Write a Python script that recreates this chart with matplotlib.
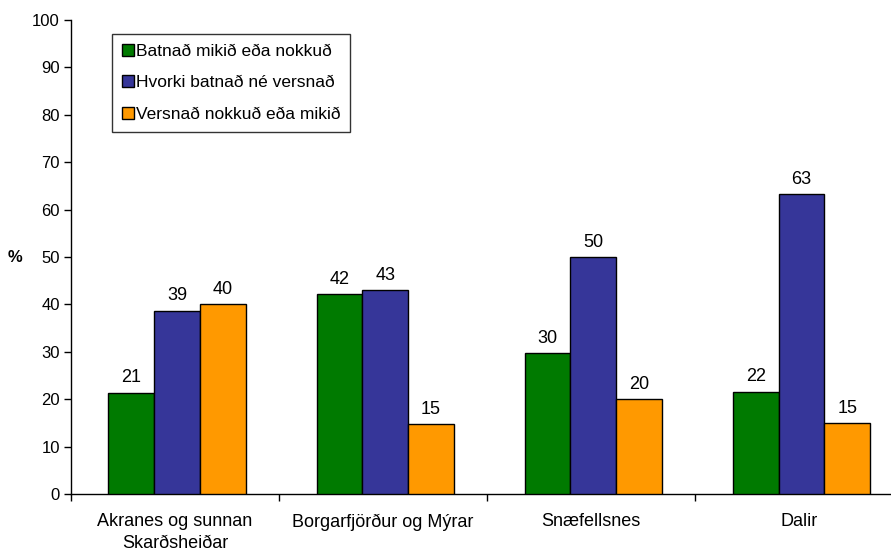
import matplotlib
matplotlib.use("Agg")
import matplotlib.pyplot as plt
import matplotlib.ticker as mticker
import numpy as np

plt.rcParams["font.family"] = ["Liberation Sans", "DejaVu Sans"]

categories = ["Akranes og sunnan\nSkarðsheiðar", "Borgarfjörður og Mýrar",
              "Snæfellsnes", "Dalir"]
series_names = ["Batnað mikið eða nokkuð", "Hvorki batnað né versnað",
                "Versnað nokkuð eða mikið"]
batnad = [21.4, 42.1, 29.7, 21.6]
hvorki = [38.7, 43.0, 49.9, 63.2]
versnad = [40.0, 14.7, 20.0, 15.0]
colors = ["#007a00", "#363699", "#ff9900"]

fig = plt.figure(figsize=(8.91, 5.52), dpi=100)
ax = fig.add_axes([71 / 891, 58 / 552, 820 / 891, 474 / 552])

x = np.arange(len(categories))
w = 0.22
for k, (vals, col, name) in enumerate(zip([batnad, hvorki, versnad], colors, series_names)):
    pos = x + (k - 1) * w + 0.01
    ax.bar(pos, vals, width=w, color=col, edgecolor="black", linewidth=1.0,
           label=name, zorder=3)
    for px, v in zip(pos, vals):
        ax.annotate(f"{v:.0f}", xy=(px, v), xytext=(0, 4.5), textcoords="offset points",
                    ha="center", va="bottom", fontsize=13)

ax.set_ylim(0, 100)
ax.set_xlim(-0.5, 3.44)
ax.yaxis.set_major_locator(mticker.MultipleLocator(10))
ax.set_xticks(np.arange(-0.5, 3.5, 1.0))
ax.set_xticklabels([])
ax.set_xticks(x, minor=True)
ax.set_xticklabels(categories, minor=True, fontsize=13, linespacing=1.35)
ax.tick_params(axis="x", which="minor", length=0, pad=14)
ax.tick_params(axis="x", which="major", length=5, direction="out", width=1)
ax.tick_params(axis="y", length=5, direction="out", width=1, labelsize=12, pad=3)

for s in ["top", "right"]:
    ax.spines[s].set_visible(False)
for s in ["left", "bottom"]:
    ax.spines[s].set_linewidth(1.0)

ax.set_ylabel("%", rotation=0, fontweight="bold", fontsize=12, labelpad=12, va="center")

leg = ax.legend(loc="upper left", bbox_to_anchor=(41 / 820, 1 - 14 / 474),
                fontsize=12.5, frameon=True, fancybox=False, edgecolor="black",
                handlelength=0.7, handleheight=0.7, handletextpad=0.15,
                labelspacing=0.95, borderpad=0.55, borderaxespad=0)
leg.get_frame().set_linewidth(1.0)

plt.savefig("out.png", dpi=100)
